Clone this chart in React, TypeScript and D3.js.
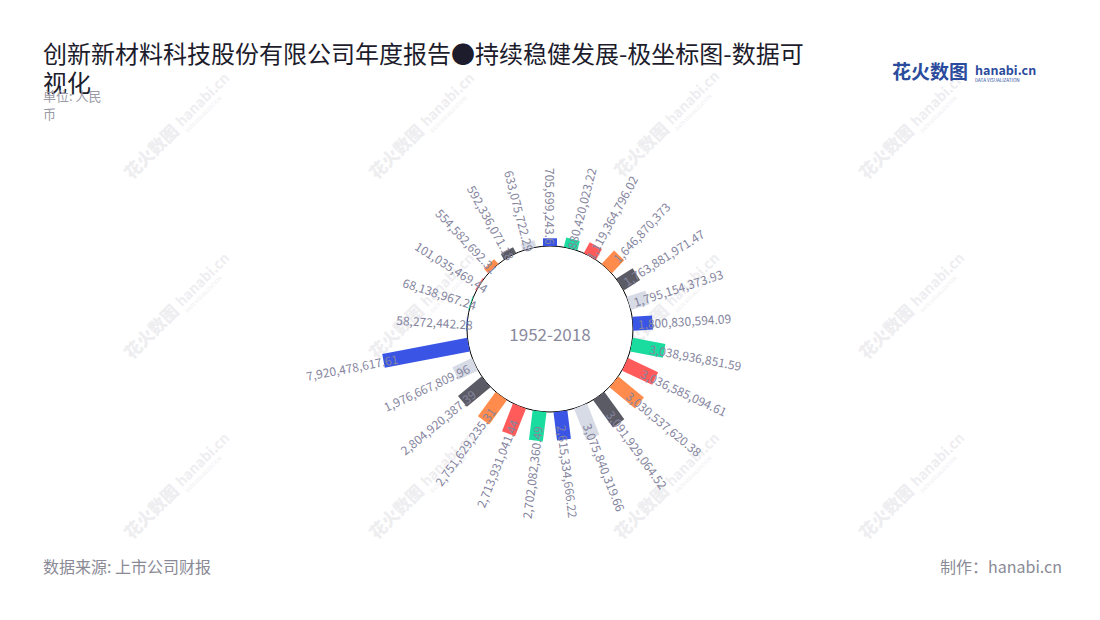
import React from 'react';
import * as d3 from 'd3';

// ---- data ----
const periods: string[] = [
  'p01','p02','p03','p04','p05','p06','p07','p08','p09','p10','p11','p12','p13',
  'p14','p15','p16','p17','p18','p19','p20','p21','p22','p23','p24','p25',
];
const values: number[] = [
  58272442.28, 68138967.24, 101035469.44, 554582692.31, 592336071.18, 633075722.29,
  705699243.6, 880420023.22, 1119364796.02, 1646870373, 1763881971.47, 1795154373.93,
  1800830594.09, 3038936851.59, 3036585094.61, 3030537620.38, 3091929064.52, 3075840319.66,
  2615334666.22, 2702082360.49, 2713931041.44, 2751629235.31, 2804920387.39, 1976667809.96,
  7920478617.61,
];
const palette: string[] = ['#3a55e6', '#1bdc9f', '#ff5b5b', '#ff8c4c', '#5b5b66', '#d7dbe5'];
const titleLine1 = '创新新材料科技股份有限公司年度报告●持续稳健发展-极坐标图-数据可';
const titleLine2 = '视化';
const unitLine1 = '单位: 人民';
const unitLine2 = '币';
const centerLabel = '1952-2018';
const sourceText = '数据来源: 上市公司财报';
const makerText = '制作：hanabi.cn';

const W = 1100;
const H = 620;
const cx = 550;
const cy = 329;
const innerR = 83;
const FONT = '"Noto Sans CJK SC", "Noto Sans", sans-serif';

const watermarkPos: [number, number][] = [
  [160, 152], [405, 152], [650, 150], [895, 152],
  [160, 332], [405, 332], [650, 332], [895, 332],
  [160, 512], [405, 512], [650, 512], [895, 512],
];

const fmt = (v: number) => v.toLocaleString('en-US', { maximumFractionDigits: 2 });

export default function App() {
  const n = values.length;
  const step = 360 / n;
  const angle = d3.scaleLinear().domain([0, n]).range([-6 * step, 360 - 6 * step]);
  const r = d3.scaleLinear().domain([0, 8e9]).range([innerR, 170.4]);
  const barW = 14;

  return (
    <svg width={W} height={H} style={{ position: 'absolute', left: 0, top: 0, background: '#fff' }}
      fontFamily={FONT}>
      {/* watermarks */}
      {watermarkPos.map(([x, y], i) => (
        <g key={i} transform={`translate(${x},${y}) rotate(-45)`} fill="#eeeef1">
          <text x={-40} y={0} fontSize={17} fontWeight={900}>花火数图</text>
          <text x={33} y={-2} fontSize={14} fontWeight={700}>hanabi.cn</text>
          <text x={33} y={6} fontSize={5}>DATA VISUALIZATION</text>
        </g>
      ))}

      {/* title */}
      <text x={43} y={63} fontSize={24} fill="#1c1c2c">{titleLine1}</text>
      <text x={43} y={92} fontSize={24} fill="#1c1c2c">{titleLine2}</text>
      <text x={43} y={101} fontSize={13} fill="#9a9aa6">{unitLine1}</text>
      <text x={43} y={119} fontSize={13} fill="#9a9aa6">{unitLine2}</text>

      {/* logo */}
      <g fill="#2b4c9c">
        <text x={892} y={79} fontSize={19} fontWeight={700}>花火数图</text>
        <text x={975} y={75} fontSize={12.5} fontWeight={700}>hanabi.cn</text>
        <text x={975} y={82} fontSize={4.6}>DATA VISUALIZATION</text>
      </g>

      {/* center circle */}
      <circle cx={cx} cy={cy} r={innerR} fill="#fff" stroke="#000" strokeWidth={1} />

      {/* bars */}
      <g transform={`translate(${cx},${cy})`}>
        {values.map((v, i) => {
          const a = angle(i);
          const ro = r(v);
          return (
            <g key={periods[i]} transform={`rotate(${a})`}>
              <rect x={-barW / 2} y={-ro} width={barW} height={ro - innerR}
                fill={palette[i % palette.length]} />
            </g>
          );
        })}
        {values.map((v, i) => {
          const a = angle(i);
          const an = ((a % 360) + 360) % 360;
          const flip = an >= 180 || an === 0;
          const rc = r(v) + 32;
          return (
            <g key={'l' + periods[i]} transform={`rotate(${a}) translate(0,${-rc}) rotate(${flip ? 90 : -90})`}>
              <text x={0} y={0} textAnchor="middle" dominantBaseline="central"
                fontSize={12} fill="#85859e">{fmt(v)}</text>
            </g>
          );
        })}
      </g>

      <text x={cx} y={cy + 4} textAnchor="middle" dominantBaseline="central" fontSize={17}
        fill="#8a8a9e">{centerLabel}</text>

      {/* footer */}
      <text x={43} y={573} fontSize={16} fill="#8a8a96">{sourceText}</text>
      <text x={1062} y={573} fontSize={16} fill="#8a8a96" textAnchor="end">{makerText}</text>
    </svg>
  );
}
